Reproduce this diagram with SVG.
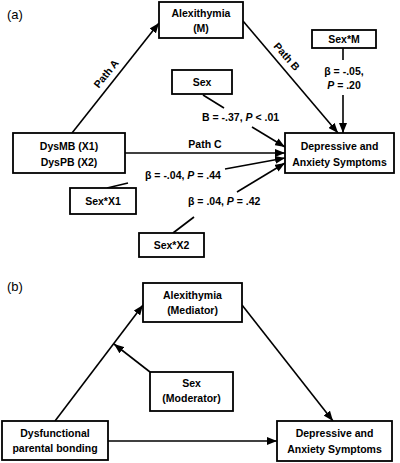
<svg xmlns="http://www.w3.org/2000/svg" width="400" height="463" viewBox="0 0 400 463">
<style>
.box{fill:#fff;stroke:#000;stroke-width:1.8}
.t{font-family:"Liberation Sans",Arial,sans-serif;font-weight:bold;font-size:10.5px;fill:#000;text-anchor:middle}
.l{font-family:"Liberation Sans",Arial,sans-serif;font-weight:bold;font-size:10.5px;fill:#000}
.p{font-family:"Liberation Sans",Arial,sans-serif;font-size:13px;fill:#000}
.c{stroke:#000;stroke-width:1.6;fill:none}
.a{marker-end:url(#ah)}
</style>
<defs>
<marker id="ah" markerUnits="userSpaceOnUse" markerWidth="10" markerHeight="8" refX="10" refY="4" orient="auto">
<path d="M0,0 L10,4 L0,8 z" fill="#000"/>
</marker>
</defs>
<rect width="400" height="463" fill="#fff"/>
<text class="p" x="7" y="19">(a)</text>
<text class="p" x="7" y="291">(b)</text>

<g id="connectors">
<line class="c a" x1="72" y1="133" x2="159" y2="23"/>
<line class="c a" x1="243" y1="21" x2="338" y2="133"/>
<line class="c" x1="343" y1="48" x2="343" y2="60"/>
<line class="c a" x1="343" y1="95" x2="343" y2="133"/>
<line class="c" x1="203" y1="95" x2="224" y2="108"/>
<line class="c a" x1="252" y1="127" x2="285" y2="147"/>
<line class="c a" x1="125" y1="153" x2="285" y2="153"/>
<line class="c" x1="107" y1="188" x2="128" y2="183"/>
<line class="c a" x1="225" y1="169" x2="285" y2="158"/>
<line class="c" x1="173" y1="233" x2="194" y2="217"/>
<line class="c a" x1="237" y1="192" x2="285" y2="163"/>
<line class="c a" x1="55" y1="421" x2="143" y2="305"/>
<line class="c a" x1="150" y1="372" x2="114" y2="344"/>
<line class="c a" x1="242" y1="305" x2="333" y2="421"/>
<line class="c a" x1="108" y1="441" x2="277" y2="441"/>
<text class="t" transform="translate(109,76) rotate(-51)">Path A</text>
<text class="t" transform="translate(284,59) rotate(49)">Path B</text>
<text class="t" x="205" y="148">Path C</text>
<text class="t" x="344" y="75">β = -.05,</text>
<text class="t" x="344" y="89"><tspan font-style="italic">P</tspan> = .20</text>
<text class="l" x="202" y="121">B = -.37, <tspan font-style="italic">P</tspan> &lt; .01</text>
<text class="l" x="145" y="179">β = -.04, <tspan font-style="italic">P</tspan> = .44</text>
<text class="l" x="188" y="205">β = .04, <tspan font-style="italic">P</tspan> = .42</text>
</g>

<g id="alexithymia-a"><rect class="box" x="159" y="2" width="84" height="36"/>
<text class="t" x="201" y="17">Alexithymia</text><text class="t" x="201" y="32">(M)</text></g>
<g id="sexM"><rect class="box" x="312" y="30" width="64" height="18"/>
<text class="t" x="344" y="43">Sex*M</text></g>
<g id="sex-a"><rect class="box" x="172" y="70" width="60" height="24"/>
<text class="t" x="202" y="86">Sex</text></g>
<g id="depressive-a"><rect class="box" x="285" y="133" width="109" height="40"/>
<text class="t" x="339.5" y="150">Depressive and</text><text class="t" x="339.5" y="166">Anxiety Symptoms</text></g>
<g id="dys-a"><rect class="box" x="13" y="133" width="112" height="40"/>
<text class="t" x="69" y="150">DysMB (X1)</text><text class="t" x="69" y="166">DysPB (X2)</text></g>
<g id="sexX1"><rect class="box" x="70" y="188" width="66" height="26"/>
<text class="t" x="103" y="205">Sex*X1</text></g>
<g id="sexX2"><rect class="box" x="139" y="233" width="65" height="24"/>
<text class="t" x="171.5" y="249">Sex*X2</text></g>

<g id="alexithymia-b"><rect class="box" x="143" y="283" width="99" height="39"/>
<text class="t" x="192.5" y="299">Alexithymia</text><text class="t" x="192.5" y="314">(Mediator)</text></g>
<g id="sex-b"><rect class="box" x="150" y="372" width="83" height="39"/>
<text class="t" x="191.5" y="387">Sex</text><text class="t" x="191.5" y="402">(Moderator)</text></g>
<g id="dys-b"><rect class="box" x="2" y="421" width="106" height="39"/>
<text class="t" x="55" y="437">Dysfunctional</text><text class="t" x="55" y="452">parental bonding</text></g>
<g id="depressive-b"><rect class="box" x="277" y="421" width="115" height="40"/>
<text class="t" x="334.5" y="437">Depressive and</text><text class="t" x="334.5" y="453">Anxiety Symptoms</text></g>
</svg>
